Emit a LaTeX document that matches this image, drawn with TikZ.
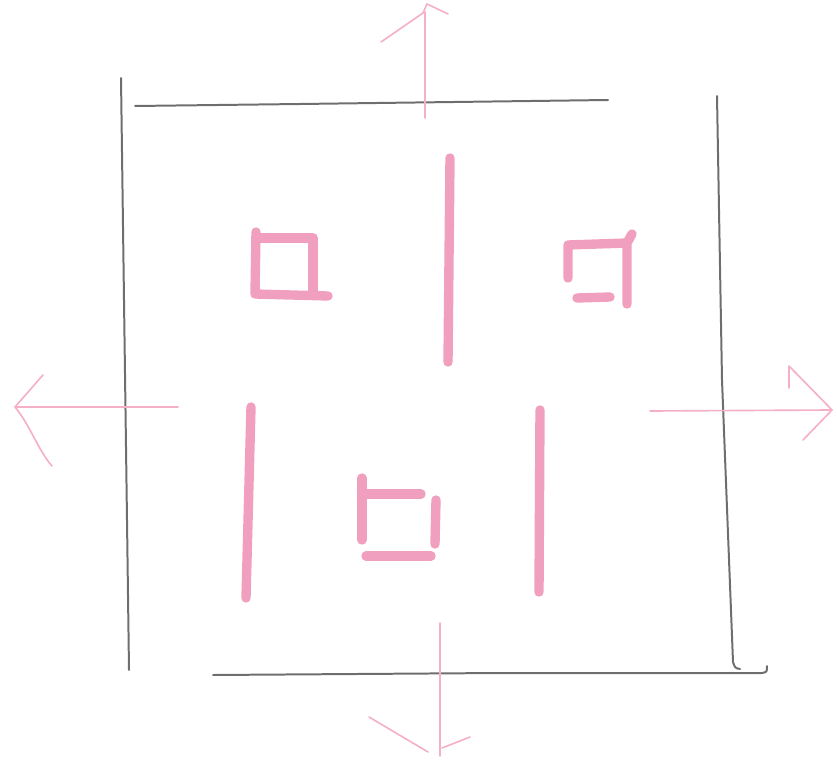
\documentclass[tikz,border=0pt]{standalone}
\definecolor{pencil}{RGB}{110,110,110}
\definecolor{penpink}{RGB}{240,160,190}
\definecolor{thinpink}{RGB}{245,176,200}
\begin{document}
\begin{tikzpicture}[x=0.03cm,y=-0.03cm,
  frame/.style={draw=pencil,line width=1.7pt,line cap=round,line join=round},
  mark stroke/.style={draw=penpink,line width=8pt,line cap=round,line join=round},
  guide/.style={draw=thinpink,line width=1.4pt,line cap=round,line join=round}]
\useasboundingbox (0,0) rectangle (837,762);
% frame
\draw[frame] (121,78) -- (124,300) -- (127,520) -- (129,670);
\draw[frame] (135,106) -- (300,104) -- (608,100);
\draw[frame] (717,96) -- (722,380) -- (733,662) .. controls (735,668) .. (740,669);
\draw[frame] (213,675) -- (500,673) -- (762,673) .. controls (767,672) .. (767,666);
% arrows
\draw[guide] (425,118) -- (425,12);
\draw[guide] (381,42) -- (423,13) -- (427,4) -- (448,14);
\draw[guide] (178,407) -- (15,407);
\draw[guide] (43,375) -- (15,407) .. controls (30,425) and (38,450) .. (52,466);
\draw[guide] (650,411) -- (832,410);
\draw[guide] (789,388) -- (789,366) -- (832,410) -- (803,440);
\draw[guide] (440,623) -- (440,756);
\draw[guide] (369,717) -- (428,752);
\draw[guide] (442,748) -- (470,737);
% thick strokes
\draw[mark stroke] (450,158) -- (448,362);
\draw[mark stroke] (251,407) -- (246,598);
\draw[mark stroke] (540,410) -- (539,592);
% square top-left
\draw[mark stroke] (256,232) -- (255,294) -- (328,296);
\draw[mark stroke] (256,238) -- (313,238) -- (313,292);
% square top-right
\draw[mark stroke] (568,278) -- (568,245) -- (627,243);
\draw[mark stroke] (632,234) -- (627,243) -- (627,304);
\draw[mark stroke] (577,298) -- (610,297);
% square bottom
\draw[mark stroke] (362,478) -- (362,540);
\draw[mark stroke] (362,494) -- (421,494);
\draw[mark stroke] (436,500) -- (435,544);
\draw[mark stroke] (366,556) -- (431,556);
\end{tikzpicture}
\end{document}
